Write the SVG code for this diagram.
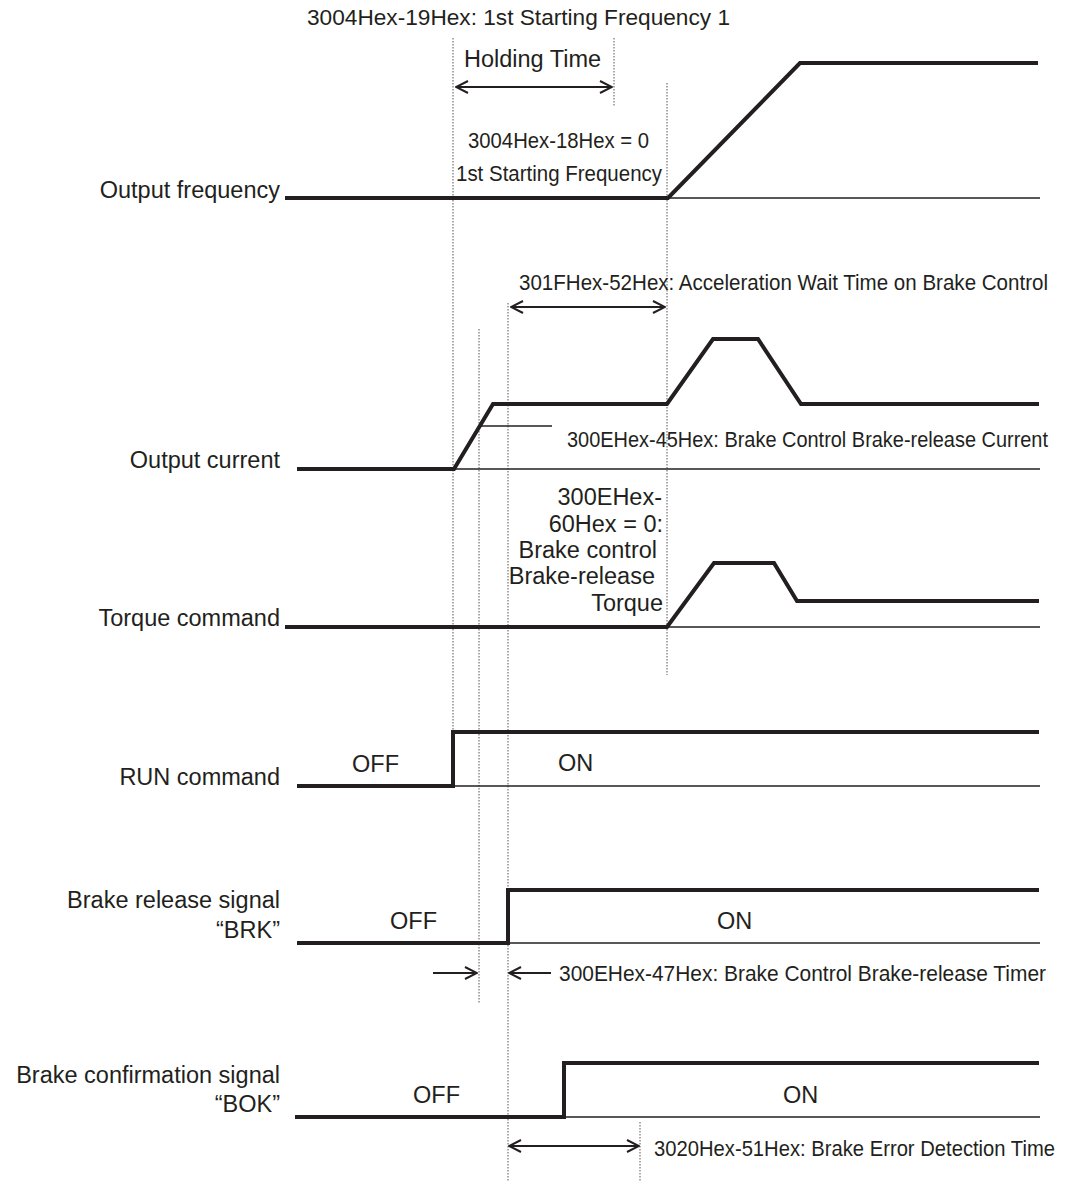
<svg xmlns="http://www.w3.org/2000/svg" width="1067" height="1182" viewBox="0 0 1067 1182">
  <style>
    text { font-family: "Liberation Sans", Arial, Helvetica, sans-serif; font-size: 23.5px; fill: #231f20; }
    .lbl { text-anchor: end; }
    .param { font-size: 20.5px; }
    .title { font-size: 22.6px; }
    .wave { fill: none; stroke: #231f20; stroke-width: 4; stroke-linejoin: miter; stroke-linecap: butt; }
    .base { fill: none; stroke: #231f20; stroke-width: 1.5; }
    .guide { fill: none; stroke: #555; stroke-width: 1; stroke-dasharray: 1.5 1.5; }
    .dim { fill: none; stroke: #231f20; stroke-width: 2; }
  </style>
  <defs>
    <marker id="head" viewBox="0 0 14 14" refX="13" refY="7" markerWidth="14" markerHeight="14" markerUnits="userSpaceOnUse" orient="auto-start-reverse">
      <path d="M1,1 L13,7 L1,13" fill="none" stroke="#231f20" stroke-width="2"/>
    </marker>
  </defs>

  <rect width="1067" height="1182" fill="#ffffff"/>

  <!-- vertical timing guides -->
  <g id="guides">
    <line class="guide" x1="453" y1="38" x2="453" y2="786"/>
    <line class="guide" x1="614" y1="38" x2="614" y2="107"/>
    <line class="guide" x1="667" y1="83" x2="667" y2="675"/>
    <line class="guide" x1="479" y1="329" x2="479" y2="1003"/>
    <line class="guide" x1="508" y1="303" x2="508" y2="1182"/>
    <line class="guide" x1="640" y1="1122" x2="640" y2="1182"/>
  </g>

  <!-- Output frequency -->
  <g id="output-frequency">
    <text class="lbl" x="280" y="198">Output frequency</text>
    <line class="base" x1="668" y1="198" x2="1040" y2="198"/>
    <polyline class="wave" points="285,198 668,198 800,63 1038,63"/>
  </g>

  <!-- Output current -->
  <g id="output-current">
    <text class="lbl" x="280" y="468">Output current</text>
    <line class="base" x1="454" y1="469" x2="1040" y2="469"/>
    <line class="base" x1="480" y1="426" x2="552" y2="426"/>
    <polyline class="wave" points="297,469 454,469 493,404 667,404 713,339 758,339 801,404 1039,404"/>
  </g>

  <!-- Torque command -->
  <g id="torque-command">
    <text class="lbl" x="280" y="626">Torque command</text>
    <line class="base" x1="667" y1="627" x2="1040" y2="627"/>
    <polyline class="wave" points="285,627 667,627 714,563 774,563 797,601 1039,601"/>
    <text class="lbl" x="662" y="505">300EHex-</text>
    <text class="lbl" x="663" y="532">60Hex = 0:</text>
    <text class="lbl" x="657" y="558">Brake control</text>
    <text class="lbl" x="655" y="584">Brake-release</text>
    <text class="lbl" x="663" y="611">Torque</text>
  </g>

  <!-- RUN command -->
  <g id="run-command">
    <text class="lbl" x="280" y="785">RUN command</text>
    <line class="base" x1="453" y1="786" x2="1040" y2="786"/>
    <polyline class="wave" points="297,786 453,786 453,732 1039,732"/>
    <text x="352" y="772">OFF</text>
    <text x="558" y="771">ON</text>
  </g>

  <!-- Brake release signal -->
  <g id="brake-release">
    <text class="lbl" x="280" y="908">Brake release signal</text>
    <text class="lbl" x="280" y="938">“BRK”</text>
    <line class="base" x1="508" y1="943" x2="1040" y2="943"/>
    <polyline class="wave" points="297,943 508,943 508,890 1039,890"/>
    <text x="390" y="929">OFF</text>
    <text x="717" y="929">ON</text>
  </g>

  <!-- Brake confirmation signal -->
  <g id="brake-confirmation">
    <text class="lbl" x="280" y="1083">Brake confirmation signal</text>
    <text class="lbl" x="280" y="1112">“BOK”</text>
    <line class="base" x1="564" y1="1117" x2="1040" y2="1117"/>
    <polyline class="wave" points="295,1117 564,1117 564,1063 1039,1063"/>
    <text x="413" y="1103">OFF</text>
    <text x="783" y="1103">ON</text>
  </g>

  <!-- dimension arrows and parameter callouts (parameter texts are set tall and narrow) -->
  <g id="connectors">
    <text class="title" x="307" y="25" textLength="423" lengthAdjust="spacingAndGlyphs">3004Hex-19Hex: 1st Starting Frequency 1</text>
    <text x="464" y="67">Holding Time</text>
    <line class="dim" x1="456" y1="87" x2="612" y2="87" marker-start="url(#head)" marker-end="url(#head)"/>
    <text class="param" transform="translate(468 148) scale(1 1.12)" textLength="181" lengthAdjust="spacingAndGlyphs">3004Hex-18Hex = 0</text>
    <text class="param" transform="translate(456 181) scale(1 1.12)" textLength="206" lengthAdjust="spacingAndGlyphs">1st Starting Frequency</text>

    <text class="param" transform="translate(519 290) scale(1 1.12)" textLength="529" lengthAdjust="spacingAndGlyphs">301FHex-52Hex: Acceleration Wait Time on Brake Control</text>
    <line class="dim" x1="511" y1="307" x2="665" y2="307" marker-start="url(#head)" marker-end="url(#head)"/>

    <text class="param" transform="translate(567 447) scale(1 1.12)" textLength="481" lengthAdjust="spacingAndGlyphs">300EHex-45Hex: Brake Control Brake-release Current</text>

    <line class="dim" x1="433" y1="973" x2="477" y2="973" marker-end="url(#head)"/>
    <line class="dim" x1="551" y1="973" x2="509" y2="973" marker-end="url(#head)"/>
    <text class="param" transform="translate(559 981) scale(1 1.12)" textLength="487" lengthAdjust="spacingAndGlyphs">300EHex-47Hex: Brake Control Brake-release Timer</text>

    <line class="dim" x1="509" y1="1146" x2="639" y2="1146" marker-start="url(#head)" marker-end="url(#head)"/>
    <text class="param" transform="translate(654 1156) scale(1 1.12)" textLength="401" lengthAdjust="spacingAndGlyphs">3020Hex-51Hex: Brake Error Detection Time</text>
  </g>
</svg>
